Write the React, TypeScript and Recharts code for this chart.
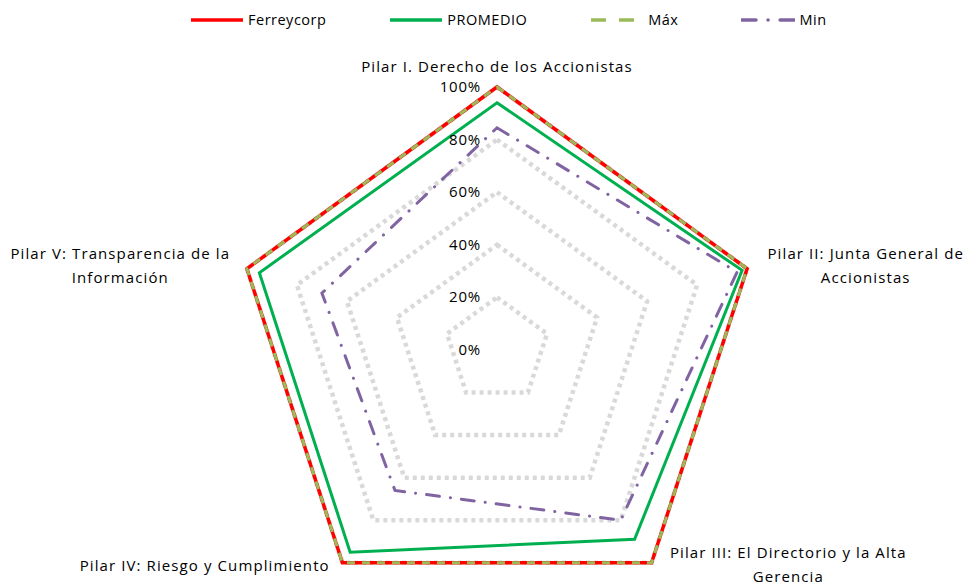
import React from 'react';
import { RadarChart, Radar, PolarGrid, PolarAngleAxis, PolarRadiusAxis, Legend } from 'recharts';

// pilares (ejes del radar)
const pilares = [
  'Pilar I. Derecho de los Accionistas',
  'Pilar II: Junta General de Accionistas',
  'Pilar III: El Directorio y la Alta Gerencia',
  'Pilar IV: Riesgo y Cumplimiento',
  'Pilar V: Transparencia de la Información',
];

// cómo se parte cada etiqueta en líneas
const pilarLines = [
  ['Pilar I. Derecho de los Accionistas'],
  ['Pilar II: Junta General de', 'Accionistas'],
  ['Pilar III: El Directorio y la Alta', 'Gerencia'],
  ['Pilar IV: Riesgo y Cumplimiento'],
  ['Pilar V: Transparencia de la', 'Información'],
];

const ferreycorp = [1, 1, 1, 1, 1];
const promedio = [0.94, 0.98, 0.89, 0.95, 0.95];
const maximo = [1, 1, 1, 1, 1];
const minimo = [0.845, 0.96, 0.8, 0.66, 0.7];

const radiusTicks = [0, 0.2, 0.4, 0.6, 0.8, 1];

const data = pilares.map((p, i) => ({
  pilar: p,
  ferreycorp: ferreycorp[i],
  promedio: promedio[i],
  max: maximo[i],
  min: minimo[i],
}));

const FONT = '"Open Sans", sans-serif';

// desplazamiento de cada etiqueta respecto al vértice
const labelOffsets = [
  { dx: 0, dy: -12 },
  { dx: 111, dy: -12 },
  { dx: 132, dy: -16 },
  { dx: -133, dy: -3 },
  { dx: -119, dy: -12 },
];

const AngleTick = (props: any) => {
  const { x, y, index } = props;
  const lines = pilarLines[index] || [props.payload.value];
  const off = labelOffsets[index];
  return (
    <text
      x={x + off.dx}
      y={y + off.dy}
      textAnchor="middle"
      fill="#000"
      fontSize={15}
      letterSpacing={1.1}
      fontFamily={FONT}
    >
      {lines.map((l, i) => (
        <tspan key={i} x={x + off.dx} dy={i === 0 ? 5 : 24}>
          {l}
        </tspan>
      ))}
    </text>
  );
};

const RadiusTick = (props: any) => {
  const { x, y, payload } = props;
  return (
    <text
      x={x - 16}
      y={y + 5}
      textAnchor="end"
      fill="#000"
      fontSize={15}
      letterSpacing={0.8}
      fontFamily={FONT}
    >
      {`${Math.round(payload.value * 100)}%`}
    </text>
  );
};

const legendItems = [
  { name: 'Ferreycorp', color: '#FF0000', dash: undefined as string | undefined },
  { name: 'PROMEDIO', color: '#00B050', dash: undefined },
  { name: 'Máx', color: '#9BBB59', dash: '15 13' },
  { name: 'Min', color: '#8064A2', dash: '14 12 0.1 12' },
];

const LegendContent = () => (
  <div style={{ display: 'flex', gap: 63, paddingLeft: 190, alignItems: 'center' }}>
    {legendItems.map((it) => (
      <div key={it.name} style={{ display: 'flex', alignItems: 'center' }}>
        <svg width={54} height={8}>
          <line
            x1={1}
            y1={4}
            x2={53}
            y2={4}
            stroke={it.color}
            strokeWidth={3.5}
            strokeDasharray={it.dash}
            strokeLinecap={it.name === 'Min' ? 'round' : 'butt'}
          />
        </svg>
        <span
          style={{ marginLeft: 4, fontFamily: FONT, fontSize: 14.5, letterSpacing: 0.5, color: '#000' }}
        >
          {it.name}
        </span>
      </div>
    ))}
  </div>
);

export default function App() {
  return (
    <div style={{ position: 'absolute', left: 0, top: 0, background: '#fff' }}>
      <RadarChart
        width={965}
        height={586}
        data={data}
        cx={497}
        cy={350}
        outerRadius={263}
        margin={{ top: 0, right: 0, bottom: 0, left: 0 }}
      >
        <PolarGrid
          gridType="polygon"
          radialLines={false}
          stroke="#D9D9D9"
          strokeWidth={4.5}
          strokeDasharray="4 4"
        />
        <PolarAngleAxis dataKey="pilar" tick={<AngleTick />} axisLine={false} tickLine={false} />
        <PolarRadiusAxis
          angle={90}
          domain={[0, 1]}
          ticks={radiusTicks as any}
          tickCount={6}
          axisLine={false}
          tickLine={false}
          tick={<RadiusTick />}
        />
        <Radar
          name="Ferreycorp"
          dataKey="ferreycorp"
          stroke="#FF0000"
          strokeWidth={3.5}
          fill="none"
          fillOpacity={0}
          dot={false}
          isAnimationActive={false}
        />
        <Radar
          name="PROMEDIO"
          dataKey="promedio"
          stroke="#00B050"
          strokeWidth={3}
          fill="none"
          fillOpacity={0}
          dot={false}
          isAnimationActive={false}
        />
        <Radar
          name="Máx"
          dataKey="max"
          stroke="#9BBB59"
          strokeWidth={3}
          strokeDasharray="8 7"
          fill="none"
          fillOpacity={0}
          dot={false}
          isAnimationActive={false}
        />
        <Radar
          name="Min"
          dataKey="min"
          stroke="#8064A2"
          strokeWidth={3}
          strokeDasharray="13 11 0.1 11"
          strokeLinecap="round"
          fill="none"
          fillOpacity={0}
          dot={false}
          isAnimationActive={false}
        />
        <Legend verticalAlign="top" content={<LegendContent />} wrapperStyle={{ top: 10, left: 0, width: 965 }} />
      </RadarChart>
    </div>
  );
}
